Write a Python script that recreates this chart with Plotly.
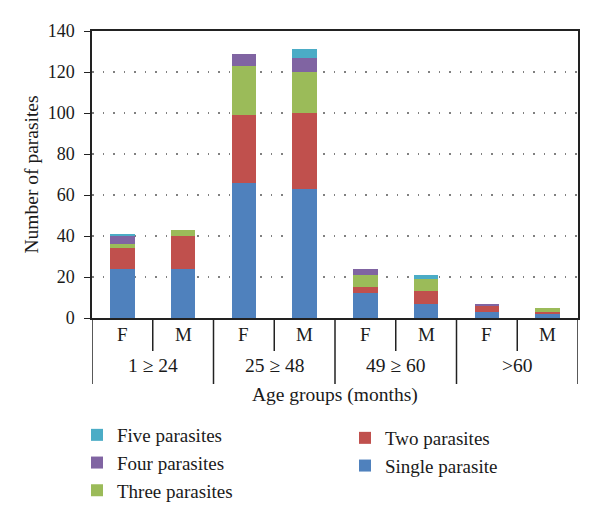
import plotly.graph_objects as go

groups = ["1 ≥ 24", "25 ≥ 48", "49 ≥ 60", ">60"]
sexes = ["F", "M"]

single = [24, 24, 66, 63, 12, 7, 3, 2]
two = [10, 16, 33, 37, 3, 6, 3, 1]
three = [2, 3, 24, 20, 6, 6, 0, 2]
four = [4, 0, 6, 7, 3, 0, 1, 0]
five = [1, 0, 0, 4, 0, 2, 0, 0]

series = [
    ("Single parasite", single, "#4F81BD", "legend2"),
    ("Two parasites", two, "#C0504D", "legend2"),
    ("Three parasites", three, "#9BBB59", "legend"),
    ("Four parasites", four, "#8064A2", "legend"),
    ("Five parasites", five, "#4BACC6", "legend"),
]

n_sub = len(sexes)
xs = list(range(len(groups) * n_sub))
sub_labels = [sexes[i % n_sub] for i in xs]

FONT = "Liberation Serif"
fig = go.Figure()
for name, vals, color, lg in series:
    fig.add_trace(go.Bar(
        x=xs, y=vals, name=name, marker=dict(color=color, line=dict(width=0)),
        width=0.4, legend=lg,
    ))

fig.update_layout(
    barmode="stack",
    width=600, height=520,
    margin=dict(l=92, r=22, t=31, b=202, autoexpand=False),
    paper_bgcolor="white", plot_bgcolor="white",
    font=dict(family=FONT, size=18, color="#1a1a1a"),
    showlegend=True,
    legend=dict(xref="container", yref="container", x=77 / 600, y=1 - 416 / 520,
                xanchor="left", yanchor="top", traceorder="reversed",
                font=dict(size=19), bgcolor="rgba(0,0,0,0)"),
    legend2=dict(xref="container", yref="container", x=345 / 600, y=1 - 419 / 520,
                 xanchor="left", yanchor="top", traceorder="reversed",
                 font=dict(size=19), bgcolor="rgba(0,0,0,0)"),
)

fig.update_xaxes(
    range=[-0.5, len(xs) - 0.5], showticklabels=False, ticks="",
    showgrid=False, zeroline=False,
    showline=True, linecolor="#222", linewidth=1.5, mirror=True,
)
fig.update_yaxes(
    range=[0, 140], dtick=20, ticks="outside", ticklen=6, tickcolor="#222",
    ticklabelstandoff=6,
    showline=True, linecolor="#222", linewidth=1.5, mirror=True,
    showgrid=True, gridcolor="#808080", gridwidth=1.5, griddash="1.5px,9px",
    zeroline=False, tickfont=dict(size=18),
)

plot_h = 520 - 31 - 202
inner_y = -(351 - 318) / plot_h
outer_y = -(384 - 318) / plot_h

shapes = []
for g in range(len(groups) + 1):
    xb = g * n_sub - 0.5
    shapes.append(dict(type="line", xref="x", yref="paper", x0=xb, x1=xb,
                       y0=0, y1=outer_y, line=dict(color="#222", width=1.5)))
for g in range(len(groups)):
    for k in range(1, n_sub):
        xb = g * n_sub + k - 0.5
        shapes.append(dict(type="line", xref="x", yref="paper", x0=xb, x1=xb,
                           y0=0, y1=inner_y, line=dict(color="#222", width=1.5)))
fig.update_layout(shapes=shapes)

annotations = []
for x, lab in zip(xs, sub_labels):
    annotations.append(dict(x=x, y=0, xref="x", yref="paper", text=lab,
                            showarrow=False, yshift=-16, yanchor="middle",
                            font=dict(size=19)))
for g, lab in enumerate(groups):
    annotations.append(dict(x=g * n_sub + (n_sub - 1) / 2, y=0, xref="x", yref="paper",
                            text=lab, showarrow=False, yshift=-47, yanchor="middle",
                            font=dict(size=19.5)))
annotations.append(dict(x=0.5, y=0, xref="paper", yref="paper",
                        text="Age groups (months)", showarrow=False, yshift=-77,
                        yanchor="middle", font=dict(size=19.5)))
annotations.append(dict(x=0, y=0.5, xref="paper", yref="paper",
                        text="Number of parasites", showarrow=False, xshift=-61,
                        xanchor="center", yanchor="middle", textangle=-90,
                        font=dict(size=19.5)))
fig.update_layout(annotations=annotations)

fig.write_html("out.html", config={"displayModeBar": False},
               post_script="document.body.style.margin='0';")
